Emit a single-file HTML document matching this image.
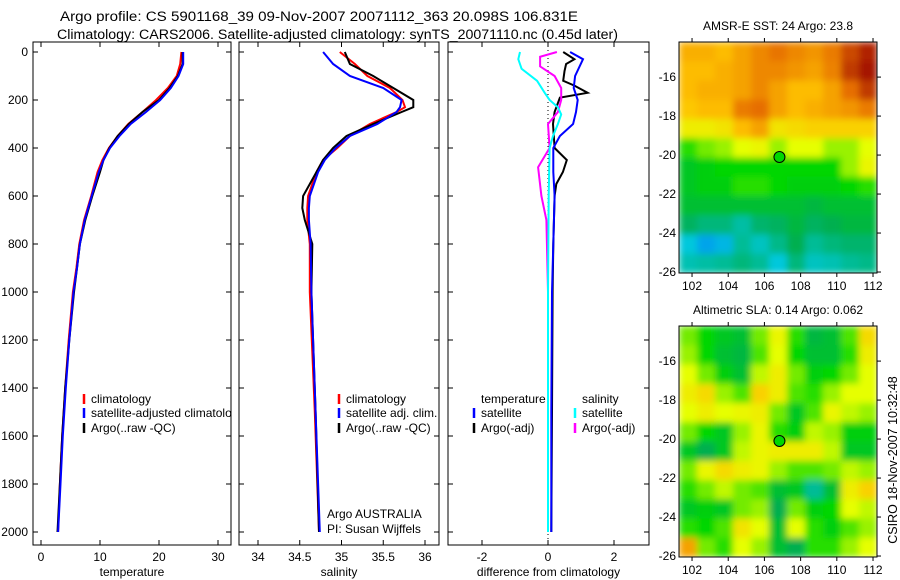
<!DOCTYPE html>
<html><head><meta charset="utf-8"><style>
html,body{margin:0;padding:0;background:#fff;}
svg{display:block;font-family:"Liberation Sans",sans-serif;}
text{fill:#000;}
</style></head><body>
<svg id="chart" width="900" height="580" viewBox="0 0 900 580" xmlns="http://www.w3.org/2000/svg">
<defs>
<clipPath id="cp1"><rect x="33" y="42" width="198" height="503"/></clipPath>
<clipPath id="cp2"><rect x="239" y="42" width="200" height="503"/></clipPath>
<clipPath id="cp3"><rect x="448" y="42" width="201" height="503"/></clipPath>
<clipPath id="cpm1"><rect x="679" y="42" width="198" height="231"/></clipPath>
<clipPath id="cpm2"><rect x="679" y="326" width="198" height="231"/></clipPath>
<filter id="blur" x="0" y="0" width="1" height="1"><feGaussianBlur stdDeviation="3.5" edgeMode="duplicate"/></filter>
</defs>
<text x="60" y="21" font-size="13.5" textLength="518" lengthAdjust="spacingAndGlyphs">Argo profile: CS 5901168_39 09-Nov-2007 20071112_363 20.098S 106.831E</text>
<text x="57" y="39" font-size="13.5" textLength="561" lengthAdjust="spacingAndGlyphs">Climatology: CARS2006. Satellite-adjusted climatology: synTS_20071110.nc (0.45d later)</text>
<g id="g"></g>
<text transform="translate(897,460) rotate(-90)" text-anchor="middle" font-size="12.5">CSIRO 18-Nov-2007 10:32:48</text>
</svg>
<script>
// ---- profile data ----
const tempDepth = [0,50,100,150,200,250,300,350,400,450,500,600,700,800,900,1000,1200,1400,1600,1800,2000];
const tempClim = [23.8,23.6,23.0,21.5,19.5,17.2,14.8,13.0,11.5,10.4,9.6,8.5,7.3,6.5,6.0,5.4,4.7,4.1,3.6,3.2,2.9];
const tempSat  = [24.1,24.1,23.3,22.0,20.2,17.8,15.2,13.3,11.7,10.6,9.8,8.6,7.4,6.6,6.1,5.5,4.8,4.2,3.7,3.3,2.9];
const tempArgo = [24.0,24.0,23.2,21.8,20.0,17.2,14.9,13.0,11.6,10.6,10.0,8.7,7.5,6.6,6.1,5.6,4.8,4.1,3.6,3.2,2.8];
const salDepth = [0,50,100,150,200,230,250,300,350,400,450,500,600,650,700,800,1000,1500,2000];
const salClim = [34.98,35.16,35.31,35.58,35.73,35.76,35.66,35.34,35.10,34.95,34.78,34.70,34.60,34.59,34.59,34.62,34.62,34.68,34.73];
const salSat  = [34.78,34.90,35.10,35.50,35.72,35.70,35.66,35.43,35.10,34.93,34.80,34.72,34.62,34.61,34.61,34.63,34.64,34.69,34.74];
const salArgo = [35.04,35.10,35.38,35.62,35.86,35.86,35.72,35.38,35.06,34.90,34.78,34.70,34.54,34.53,34.56,34.65,34.64,34.69,34.73];
const dTsatDepth = [0,30,100,150,200,250,300,350,400,500,600,800,1000,1500,2000];
const dTsat = [0.67,1.06,0.82,0.78,0.9,0.85,0.76,0.36,0.16,0.16,0.2,0.16,0.12,0.1,0.1];
const dTargoDepth = [0,30,50,80,120,140,170,190,250,300,400,450,500,550,600,800,1000,1500,2000];
const dTargo = [0.46,0.8,0.55,0.5,0.46,0.8,1.2,0.36,0.2,0.15,0.2,0.57,0.45,0.25,0.2,0.16,0.14,0.12,0.1];
const dSsatDepth = [0,30,70,120,170,200,230,260,300,350,400,600,1000,2000];
const dSsat = [-0.85,-0.9,-0.8,-0.33,-0.1,0.05,0.3,0.4,0.3,0.15,0.05,0.02,0,0];
const dSargoDepth = [0,20,60,100,150,200,250,300,400,480,600,700,1000,2000];
const dSargo = [0.27,-0.24,-0.24,0.2,0.4,0.4,0.3,0.0,0.05,-0.3,-0.2,-0.05,0,0];
const depthTicks = [0,200,400,600,800,1000,1200,1400,1600,1800,2000];
const tempTicks = [0,10,20,30];
const salTicks = [34,34.5,35,35.5,36];
const diffTicks = [-2,0,2];
// ---- map data (12 lat rows x 11 lon cols, normalized colour value) ----
const sstGrid = [
[.78,.78,.76,.80,.84,.87,.84,.82,.86,.93,.98],
[.76,.76,.78,.80,.84,.84,.82,.80,.85,.95,1.0],
[.76,.78,.78,.80,.84,.80,.76,.76,.80,.88,.95],
[.74,.76,.76,.86,.88,.80,.76,.78,.80,.82,.86],
[.66,.66,.68,.76,.80,.68,.70,.72,.72,.72,.72],
[.52,.56,.58,.62,.64,.58,.62,.62,.58,.58,.62],
[.46,.48,.50,.50,.50,.50,.50,.50,.50,.58,.64],
[.46,.48,.48,.52,.52,.50,.48,.48,.48,.50,.52],
[.44,.44,.44,.44,.44,.44,.44,.42,.44,.44,.44],
[.38,.34,.34,.28,.36,.38,.42,.38,.40,.42,.42],
[.20,.12,.16,.30,.24,.32,.40,.30,.34,.36,.36],
[.26,.28,.30,.34,.30,.20,.34,.24,.26,.30,.32]];
const slaGrid = [
[.56,.50,.46,.44,.56,.64,.52,.42,.44,.54,.70],
[.58,.50,.44,.42,.54,.62,.50,.44,.44,.52,.66],
[.62,.56,.48,.44,.60,.66,.56,.48,.50,.56,.62],
[.66,.70,.58,.54,.72,.66,.54,.52,.58,.62,.62],
[.62,.66,.62,.64,.66,.56,.46,.54,.64,.60,.58],
[.56,.50,.46,.58,.64,.52,.48,.60,.58,.48,.48],
[.46,.40,.46,.60,.64,.66,.66,.66,.60,.46,.46],
[.56,.64,.70,.66,.64,.58,.54,.54,.56,.60,.58],
[.52,.56,.60,.56,.54,.44,.46,.30,.44,.66,.72],
[.46,.48,.46,.56,.58,.40,.56,.48,.50,.62,.60],
[.52,.50,.54,.68,.62,.44,.62,.52,.48,.54,.58],
[.80,.56,.52,.62,.58,.44,.40,.52,.52,.58,.62]];
const lonTicks = [102,104,106,108,110,112];
const latTicks = [16,18,20,22,24,26];
const argoLon = 106.83, argoLat = 20.1;

const NS="http://www.w3.org/2000/svg";
const G=document.getElementById('g');
function el(tag,attrs,parent,txt){const e=document.createElementNS(NS,tag);for(const k in attrs)e.setAttribute(k,attrs[k]);if(txt!==undefined)e.textContent=txt;(parent||G).appendChild(e);return e;}
const yD = d => 52 + 0.24*d;
const panels = [
 {x0:33,x1:231,xs:v=>41+5.9*v,ticks:tempTicks,title:'temperature',clip:'cp1',name:'temperature'},
 {x0:239,x1:439,xs:v=>258+83.5*(v-34),ticks:salTicks,title:'salinity',clip:'cp2',name:'salinity'},
 {x0:448,x1:649,xs:v=>548+33*v,ticks:diffTicks,title:'difference from climatology',clip:'cp3',name:'difference'}];
const topY=42,botY=545;
panels.forEach((p,i)=>{
  const f=el('rect',{x:p.x0,y:topY,width:p.x1-p.x0,height:botY-topY,fill:'#fff',stroke:'#000','stroke-width':1});
  
  
  depthTicks.forEach(d=>{
    const y=yD(d);
    el('line',{x1:p.x0,x2:p.x0+5,y1:y,y2:y,stroke:'#000'});
    el('line',{x1:p.x1-5,x2:p.x1,y1:y,y2:y,stroke:'#000'});
    if(i===0){const t=el('text',{x:28,y:y+4,'text-anchor':'end','font-size':12},G,String(d));
      
      }
  });
  p.ticks.forEach(v=>{
    const x=p.xs(v);
    el('line',{x1:x,x2:x,y1:topY,y2:topY+5,stroke:'#000'});
    el('line',{x1:x,x2:x,y1:botY-5,y2:botY,stroke:'#000'});
    const t=el('text',{x:x,y:561,'text-anchor':'middle','font-size':12},G,String(v));
    
    
  });
  const tt=el('text',{x:(p.x0+p.x1)/2,y:576,'text-anchor':'middle','font-size':12},G,p.title);
  
  
});
el('line',{x1:548,x2:548,y1:topY,y2:botY,stroke:'#000','stroke-dasharray':'1,3'});
function series(p,depths,vals,color,name){
  const pts=depths.map((d,k)=>p.xs(vals[k]).toFixed(1)+','+yD(d).toFixed(1)).join(' ');
  const l=el('polyline',{points:pts,fill:'none',stroke:color,'stroke-width':2,'clip-path':'url(#'+p.clip+')'});
  
  
}
series(panels[0],tempDepth,tempClim,'#f00','temp-climatology-line');
series(panels[0],tempDepth,tempArgo,'#000','temp-argo-line');
series(panels[0],tempDepth,tempSat,'#00f','temp-satellite-line');
series(panels[1],salDepth,salClim,'#f00','sal-climatology-line');
series(panels[1],salDepth,salArgo,'#000','sal-argo-line');
series(panels[1],salDepth,salSat,'#00f','sal-satellite-line');
series(panels[2],dTargoDepth,dTargo,'#000','diff-temp-argo-line');
series(panels[2],dTsatDepth,dTsat,'#00f','diff-temp-satellite-line');
series(panels[2],dSargoDepth,dSargo,'#f0f','diff-sal-argo-line');
series(panels[2],dSsatDepth,dSsat,'#0ff','diff-sal-satellite-line');
function legend(x,y,color,label,clip,name){
  if(color) el('line',{x1:x,x2:x,y1:y-9,y2:y+1,stroke:color,'stroke-width':2.5});
  const t=el('text',{x:x+7,y:y,'font-size':12,'clip-path':'url(#'+clip+')'},G,label);
  
  
}
legend(84,403,'#f00','climatology','cp1','legend-climatology');
legend(84,417,'#00f','satellite-adjusted climatology','cp1','legend-satellite-adjusted');
legend(84,432,'#000','Argo(..raw -QC)','cp1','legend-argo-raw');
legend(339,403,'#f00','climatology','cp2','legend-sal-climatology');
legend(339,417,'#00f','satellite adj. clim.','cp2','legend-sal-satellite');
legend(339,432,'#000','Argo(..raw -QC)','cp2','legend-sal-argo');
legend(474,403,null,'temperature','cp3','legend-temperature-header');
legend(474,417,'#00f','satellite','cp3','legend-temp-satellite');
legend(474,432,'#000','Argo(-adj)','cp3','legend-temp-argo');
legend(575,403,null,'salinity','cp3','legend-salinity-header');
legend(575,417,'#0ff','satellite','cp3','legend-sal-satellite-diff');
legend(575,432,'#f0f','Argo(-adj)','cp3','legend-sal-argo-diff');
const a1=el('text',{x:327,y:518,'font-size':12},G,'Argo AUSTRALIA');


const a2=el('text',{x:327,y:533,'font-size':12},G,'PI: Susan Wijffels');


const stops=[[0,[0,110,255]],[0.2,[0,200,220]],[0.4,[0,175,80]],[0.5,[0,215,0]],[0.62,[230,255,0]],[0.75,[255,195,0]],[0.88,[230,110,0]],[1,[165,20,0]]];
function cmap(v){for(let i=1;i<stops.length;i++){if(v<=stops[i][0]){const a=stops[i-1],b=stops[i];const t=(v-a[0])/(b[0]-a[0]);return 'rgb('+a[1].map((c,k)=>Math.round(c+(b[1][k]-c)*t)).join(',')+')';}}return 'rgb(165,20,0)';}
function drawMap(grid,y0,title,clip,name){
  const x0=679,x1=877,y1=y0+231;
  const lonMin=101.28,lonMax=112.22,latMin=14.2,latMax=26.05;
  const xs=l=>x0+(l-lonMin)/(lonMax-lonMin)*(x1-x0);
  const ys=l=>y0+(l-latMin)/(latMax-latMin)*(y1-y0);
  const gm=el('g',{'clip-path':'url(#'+clip+')'});
  const gb=el('g',{filter:'url(#blur)'},gm);
  el('rect',{x:x0,y:y0,width:x1-x0,height:y1-y0,fill:cmap(0.5)},gb);
  const nr=grid.length,nc=grid[0].length;
  grid.forEach((row,r)=>row.forEach((v,c)=>{
    const la=latMin+(latMax-latMin)*r/nr, lb=latMin+(latMax-latMin)*(r+1)/nr;
    const lo=lonMin+(lonMax-lonMin)*c/nc, lp=lonMin+(lonMax-lonMin)*(c+1)/nc;
    const cell=el('rect',{x:xs(lo),y:ys(la),width:xs(lp)-xs(lo)+0.5,height:ys(lb)-ys(la)+0.5,fill:cmap(v)},gb);
    
    
  }));
  const fr=el('rect',{x:x0,y:y0,width:x1-x0,height:y1-y0,fill:'none',stroke:'#000'});
  
  
  lonTicks.forEach(l=>{const x=xs(l);
    el('line',{x1:x,x2:x,y1:y0-4,y2:y0,stroke:'#000'});el('line',{x1:x,x2:x,y1:y1,y2:y1+4,stroke:'#000'});
    const t=el('text',{x:x,y:y1+17,'text-anchor':'middle','font-size':12},G,String(l));
    
    });
  latTicks.forEach(l=>{const y=ys(l);
    el('line',{x1:x1,x2:x1+4,y1:y,y2:y,stroke:'#000'});
    const t=el('text',{x:676,y:y+4,'text-anchor':'end','font-size':12},G,'-'+l);
    
    });
  const mk=el('circle',{cx:xs(argoLon),cy:ys(argoLat),r:5.5,fill:cmap(0.5),stroke:'#000','stroke-width':1});
  
  
  const tt=el('text',{x:(x0+x1)/2,y:y0-12,'text-anchor':'middle','font-size':12},G,title);
  
  
}
drawMap(sstGrid,42,'AMSR-E SST: 24 Argo: 23.8','cpm1','sst-map');
drawMap(slaGrid,326,'Altimetric SLA: 0.14 Argo: 0.062','cpm2','sla-map');
</script>
</body></html>
